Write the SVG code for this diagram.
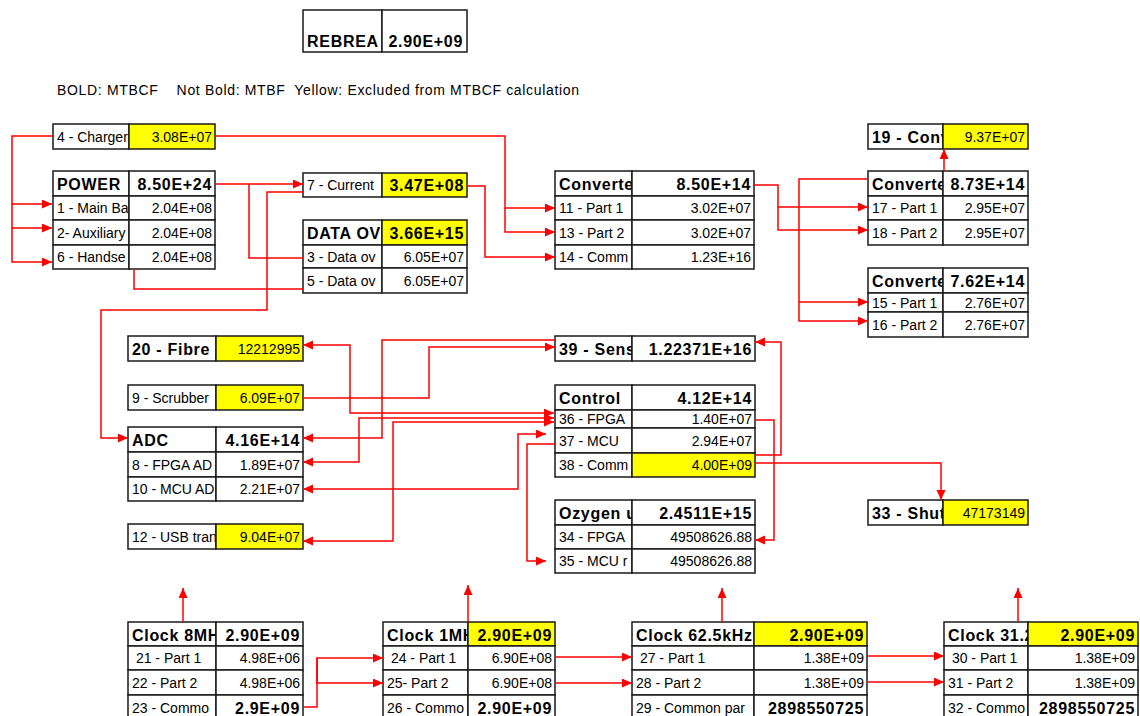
<svg xmlns="http://www.w3.org/2000/svg" width="1140" height="716" viewBox="0 0 1140 716">
<style>
.c{fill:#fff;stroke:#1a1a1a;stroke-width:1.5}
.y{fill:#ffff00;stroke:#1a1a1a;stroke-width:1.5}
.t{font-family:"Liberation Sans",Arial,sans-serif;font-size:14px;fill:#000}
.b{font-weight:bold;font-size:16px;letter-spacing:0.7px}
.r{text-anchor:end}
.ln{fill:none;stroke:#ff0000;stroke-width:1.5}
.a{marker-end:url(#ah)}
.aa{marker-end:url(#ah);marker-start:url(#ah)}
</style>
<defs>
<marker id="ah" markerUnits="userSpaceOnUse" markerWidth="11" markerHeight="10" refX="10" refY="4.5" orient="auto-start-reverse">
<path d="M0,0 L10,4.5 L0,9 z" fill="#ff0000"/>
</marker>
</defs>
<rect width="1140" height="716" fill="#fff"/>

<g id="rebrea">
<rect class="c" x="303" y="10" width="79" height="42"/><text class="t b" x="307" y="47">REBREA</text>
<rect class="c" x="382" y="10" width="85" height="42"/><text class="t b r" x="463" y="47">2.90E+09</text>
</g>

<g id="legend">
<text class="t" x="57" y="95" xml:space="preserve" textLength="522" lengthAdjust="spacing">BOLD: MTBCF    Not Bold: MTBF  Yellow: Excluded from MTBCF calculation</text>
</g>

<g id="charger">
<rect class="c" x="53" y="124" width="76" height="25"/><text class="t" x="57" y="142">4 - Charger</text>
<rect class="y" x="129" y="124" width="86" height="25"/><text class="t r" x="212" y="142">3.08E+07</text>
</g>

<g id="power">
<rect class="c" x="53" y="171" width="76" height="25"/><text class="t b" x="57" y="190">POWER</text>
<rect class="c" x="129" y="171" width="86" height="25"/><text class="t b r" x="212" y="190">8.50E+24</text>
<rect class="c" x="53" y="196" width="76" height="24"/><text class="t" x="57" y="213">1 - Main Ba</text>
<rect class="c" x="129" y="196" width="86" height="24"/><text class="t r" x="212" y="213">2.04E+08</text>
<rect class="c" x="53" y="220" width="76" height="25"/><text class="t" x="57" y="238">2- Auxiliary</text>
<rect class="c" x="129" y="220" width="86" height="25"/><text class="t r" x="212" y="238">2.04E+08</text>
<rect class="c" x="53" y="245" width="76" height="24"/><text class="t" x="57" y="262">6 - Handse</text>
<rect class="c" x="129" y="245" width="86" height="24"/><text class="t r" x="212" y="262">2.04E+08</text>
</g>

<g id="current">
<rect class="c" x="303" y="173" width="79" height="24"/><text class="t" x="307" y="190">7 - Current</text>
<rect class="y" x="382" y="173" width="85" height="24"/><text class="t b r" x="464" y="191">3.47E+08</text>
</g>

<g id="dataov">
<rect class="c" x="303" y="220" width="79" height="25"/><text class="t b" x="307" y="239">DATA OV</text>
<rect class="y" x="382" y="220" width="85" height="25"/><text class="t b r" x="464" y="239">3.66E+15</text>
<rect class="c" x="303" y="245" width="79" height="23"/><text class="t" x="307" y="262">3 - Data ov</text>
<rect class="c" x="382" y="245" width="85" height="23"/><text class="t r" x="464" y="262">6.05E+07</text>
<rect class="c" x="303" y="268" width="79" height="25"/><text class="t" x="307" y="286">5 - Data ov</text>
<rect class="c" x="382" y="268" width="85" height="25"/><text class="t r" x="464" y="286">6.05E+07</text>
</g>

<g id="converterA">
<rect class="c" x="555" y="171" width="77" height="25"/><text class="t b" x="559" y="190">Converte</text>
<rect class="c" x="632" y="171" width="122" height="25"/><text class="t b r" x="751" y="190">8.50E+14</text>
<rect class="c" x="555" y="196" width="77" height="24"/><text class="t" x="559" y="213">11 - Part 1</text>
<rect class="c" x="632" y="196" width="122" height="24"/><text class="t r" x="751" y="213">3.02E+07</text>
<rect class="c" x="555" y="220" width="77" height="25"/><text class="t" x="559" y="238">13 - Part 2</text>
<rect class="c" x="632" y="220" width="122" height="25"/><text class="t r" x="751" y="238">3.02E+07</text>
<rect class="c" x="555" y="245" width="77" height="24"/><text class="t" x="559" y="262">14 - Comm</text>
<rect class="c" x="632" y="245" width="122" height="24"/><text class="t r" x="751" y="262">1.23E+16</text>
</g>

<g id="conv19">
<rect class="c" x="868" y="124" width="75" height="25"/><text class="t b" x="872" y="143">19 - Conv</text>
<rect class="y" x="943" y="124" width="85" height="25"/><text class="t r" x="1025" y="142">9.37E+07</text>
</g>

<g id="converterB">
<rect class="c" x="868" y="171" width="75" height="25"/><text class="t b" x="872" y="190">Converte</text>
<rect class="c" x="943" y="171" width="85" height="25"/><text class="t b r" x="1025" y="190">8.73E+14</text>
<rect class="c" x="868" y="196" width="75" height="24"/><text class="t" x="872" y="213">17 - Part 1</text>
<rect class="c" x="943" y="196" width="85" height="24"/><text class="t r" x="1025" y="213">2.95E+07</text>
<rect class="c" x="868" y="220" width="75" height="25"/><text class="t" x="872" y="238">18 - Part 2</text>
<rect class="c" x="943" y="220" width="85" height="25"/><text class="t r" x="1025" y="238">2.95E+07</text>
</g>

<g id="converterC">
<rect class="c" x="868" y="268" width="75" height="25"/><text class="t b" x="872" y="287">Converte</text>
<rect class="c" x="943" y="268" width="85" height="25"/><text class="t b r" x="1025" y="287">7.62E+14</text>
<rect class="c" x="868" y="293" width="75" height="19"/><text class="t" x="872" y="308">15 - Part 1</text>
<rect class="c" x="943" y="293" width="85" height="19"/><text class="t r" x="1025" y="308">2.76E+07</text>
<rect class="c" x="868" y="312" width="75" height="25"/><text class="t" x="872" y="330">16 - Part 2</text>
<rect class="c" x="943" y="312" width="85" height="25"/><text class="t r" x="1025" y="330">2.76E+07</text>
</g>

<g id="fibre">
<rect class="c" x="128" y="336" width="88" height="25"/><text class="t b" x="132" y="355">20 - Fibre</text>
<rect class="y" x="216" y="336" width="87" height="25"/><text class="t r" x="300" y="354">12212995</text>
</g>

<g id="scrubber">
<rect class="c" x="128" y="385" width="88" height="25"/><text class="t" x="132" y="403">9 - Scrubber</text>
<rect class="y" x="216" y="385" width="87" height="25"/><text class="t r" x="300" y="403">6.09E+07</text>
</g>

<g id="adc">
<rect class="c" x="128" y="427" width="88" height="25"/><text class="t b" x="132" y="446">ADC</text>
<rect class="c" x="216" y="427" width="87" height="25"/><text class="t b r" x="300" y="446">4.16E+14</text>
<rect class="c" x="128" y="452" width="88" height="25"/><text class="t" x="132" y="470">8 - FPGA AD</text>
<rect class="c" x="216" y="452" width="87" height="25"/><text class="t r" x="300" y="470">1.89E+07</text>
<rect class="c" x="128" y="477" width="88" height="24"/><text class="t" x="132" y="494">10 - MCU AD</text>
<rect class="c" x="216" y="477" width="87" height="24"/><text class="t r" x="300" y="494">2.21E+07</text>
</g>

<g id="usb">
<rect class="c" x="128" y="524" width="88" height="25"/><text class="t" x="132" y="542">12 - USB tran</text>
<rect class="y" x="216" y="524" width="87" height="25"/><text class="t r" x="300" y="542">9.04E+07</text>
</g>

<g id="sens">
<rect class="c" x="555" y="336" width="77" height="25"/><text class="t b" x="559" y="355">39 - Sens</text>
<rect class="c" x="632" y="336" width="123" height="25"/><text class="t b r" x="752" y="355">1.22371E+16</text>
</g>

<g id="control">
<rect class="c" x="555" y="385" width="77" height="25"/><text class="t b" x="559" y="404">Control</text>
<rect class="c" x="632" y="385" width="123" height="25"/><text class="t b r" x="752" y="404">4.12E+14</text>
<rect class="c" x="555" y="410" width="77" height="18"/><text class="t" x="559" y="424">36 - FPGA</text>
<rect class="c" x="632" y="410" width="123" height="18"/><text class="t r" x="752" y="424">1.40E+07</text>
<rect class="c" x="555" y="428" width="77" height="25"/><text class="t" x="559" y="446">37 - MCU</text>
<rect class="c" x="632" y="428" width="123" height="25"/><text class="t r" x="752" y="446">2.94E+07</text>
<rect class="c" x="555" y="453" width="77" height="24"/><text class="t" x="559" y="470">38 - Comm</text>
<rect class="y" x="632" y="453" width="123" height="24"/><text class="t r" x="752" y="470">4.00E+09</text>
</g>

<g id="oxygen">
<rect class="c" x="555" y="500" width="77" height="25"/><text class="t b" x="559" y="519">Ozygen u</text>
<rect class="c" x="632" y="500" width="123" height="25"/><text class="t b r" x="752" y="519">2.4511E+15</text>
<rect class="c" x="555" y="525" width="77" height="24"/><text class="t" x="559" y="542">34 - FPGA</text>
<rect class="c" x="632" y="525" width="123" height="24"/><text class="t r" x="752" y="542">49508626.88</text>
<rect class="c" x="555" y="549" width="77" height="24"/><text class="t" x="559" y="566">35 - MCU r</text>
<rect class="c" x="632" y="549" width="123" height="24"/><text class="t r" x="752" y="566">49508626.88</text>
</g>

<g id="shut">
<rect class="c" x="868" y="500" width="75" height="25"/><text class="t b" x="872" y="519">33 - Shut</text>
<rect class="y" x="943" y="500" width="85" height="25"/><text class="t r" x="1025" y="518">47173149</text>
</g>

<g id="clock8">
<rect class="c" x="128" y="622" width="88" height="24"/><text class="t b" x="132" y="641">Clock 8MH</text>
<rect class="c" x="216" y="622" width="87" height="24"/><text class="t b r" x="300" y="641">2.90E+09</text>
<rect class="c" x="128" y="646" width="88" height="24"/><text class="t" x="132" y="663" xml:space="preserve"> 21 - Part 1</text>
<rect class="c" x="216" y="646" width="87" height="24"/><text class="t r" x="300" y="663">4.98E+06</text>
<rect class="c" x="128" y="670" width="88" height="25"/><text class="t" x="132" y="688">22 - Part 2</text>
<rect class="c" x="216" y="670" width="87" height="25"/><text class="t r" x="300" y="688">4.98E+06</text>
<rect class="c" x="128" y="695" width="88" height="25"/><text class="t" x="132" y="713">23 - Commo</text>
<rect class="c" x="216" y="695" width="87" height="25"/><text class="t b r" x="300" y="714">2.9E+09</text>
</g>

<g id="clock1">
<rect class="c" x="383" y="622" width="85" height="24"/><text class="t b" x="387" y="641">Clock 1MH</text>
<rect class="y" x="468" y="622" width="87" height="24"/><text class="t b r" x="552" y="641">2.90E+09</text>
<rect class="c" x="383" y="646" width="85" height="24"/><text class="t" x="387" y="663" xml:space="preserve"> 24 - Part 1</text>
<rect class="c" x="468" y="646" width="87" height="24"/><text class="t r" x="552" y="663">6.90E+08</text>
<rect class="c" x="383" y="670" width="85" height="25"/><text class="t" x="387" y="688">25- Part 2</text>
<rect class="c" x="468" y="670" width="87" height="25"/><text class="t r" x="552" y="688">6.90E+08</text>
<rect class="c" x="383" y="695" width="85" height="25"/><text class="t" x="387" y="713">26 - Commo</text>
<rect class="c" x="468" y="695" width="87" height="25"/><text class="t b r" x="552" y="714">2.90E+09</text>
</g>

<g id="clock62">
<rect class="c" x="632" y="622" width="122" height="24"/><text class="t b" x="636" y="641">Clock 62.5kHz</text>
<rect class="y" x="754" y="622" width="113" height="24"/><text class="t b r" x="864" y="641">2.90E+09</text>
<rect class="c" x="632" y="646" width="122" height="24"/><text class="t" x="636" y="663" xml:space="preserve"> 27 - Part 1</text>
<rect class="c" x="754" y="646" width="113" height="24"/><text class="t r" x="864" y="663">1.38E+09</text>
<rect class="c" x="632" y="670" width="122" height="25"/><text class="t" x="636" y="688">28 - Part 2</text>
<rect class="c" x="754" y="670" width="113" height="25"/><text class="t r" x="864" y="688">1.38E+09</text>
<rect class="c" x="632" y="695" width="122" height="25"/><text class="t" x="636" y="713">29 - Common par</text>
<rect class="c" x="754" y="695" width="113" height="25"/><text class="t b r" x="864" y="714">2898550725</text>
</g>

<g id="clock31">
<rect class="c" x="944" y="622" width="84" height="24"/><text class="t b" x="948" y="641">Clock 31.2</text>
<rect class="y" x="1028" y="622" width="110" height="24"/><text class="t b r" x="1135" y="641">2.90E+09</text>
<rect class="c" x="944" y="646" width="84" height="24"/><text class="t" x="948" y="663" xml:space="preserve"> 30 - Part 1</text>
<rect class="c" x="1028" y="646" width="110" height="24"/><text class="t r" x="1135" y="663">1.38E+09</text>
<rect class="c" x="944" y="670" width="84" height="25"/><text class="t" x="948" y="688">31 - Part 2</text>
<rect class="c" x="1028" y="670" width="110" height="25"/><text class="t r" x="1135" y="688">1.38E+09</text>
<rect class="c" x="944" y="695" width="84" height="25"/><text class="t" x="948" y="713">32 - Commo</text>
<rect class="c" x="1028" y="695" width="110" height="25"/><text class="t b r" x="1135" y="714">2898550725</text>
</g>

<g id="connectors">
<path class="ln a" d="M53,136 H12 V204 H52"/>
<path class="ln a" d="M12,204 V228 H52"/>
<path class="ln a" d="M12,228 V262 H52"/>
<path class="ln a" d="M215,136 H505 V208 H555"/>
<path class="ln a" d="M505,208 V232 H555"/>
<path class="ln a" d="M215,184 H303"/>
<path class="ln" d="M249,184 V258 H303"/>
<path class="ln" d="M134,269 V289 H303"/>
<path class="ln a" d="M303,192 H267 V310 H101 V438 H128"/>
<path class="ln a" d="M467,186 H485 V257 H555"/>
<path class="ln a" d="M754,185 H778 V207 H868"/>
<path class="ln a" d="M778,207 V230 H868"/>
<path class="ln a" d="M868,179 H799 V302 H868"/>
<path class="ln a" d="M799,302 V321 H868"/>
<path class="ln a" d="M944,171 V149"/>
<path class="ln a" d="M555,340 H382 V438 H303"/>
<path class="ln a" d="M303,398 H429 V347 H555"/>
<path class="ln aa" d="M554,413 H350 V345 H303"/>
<path class="ln aa" d="M554,418 H359 V462 H303"/>
<path class="ln aa" d="M554,422 H393 V541 H303"/>
<path class="ln aa" d="M303,489 H518 V434 H546"/>
<path class="ln a" d="M555,444 H527 V561 H546"/>
<path class="ln a" d="M755,420 H774 V540 H755"/>
<path class="ln a" d="M755,455 H781 V342 H755"/>
<path class="ln a" d="M755,463 H941 V500"/>
<path class="ln a" d="M183,622 V588"/>
<path class="ln a" d="M468,622 V585"/>
<path class="ln a" d="M722,622 V588"/>
<path class="ln a" d="M1018,622 V588"/>
<path class="ln a" d="M303,707 H317 V658 H383"/>
<path class="ln a" d="M317,658 V683 H383"/>
<path class="ln a" d="M555,657 H632"/>
<path class="ln a" d="M555,683 H632"/>
<path class="ln a" d="M867,656 H944"/>
<path class="ln a" d="M867,682 H944"/>
</g>
</svg>
